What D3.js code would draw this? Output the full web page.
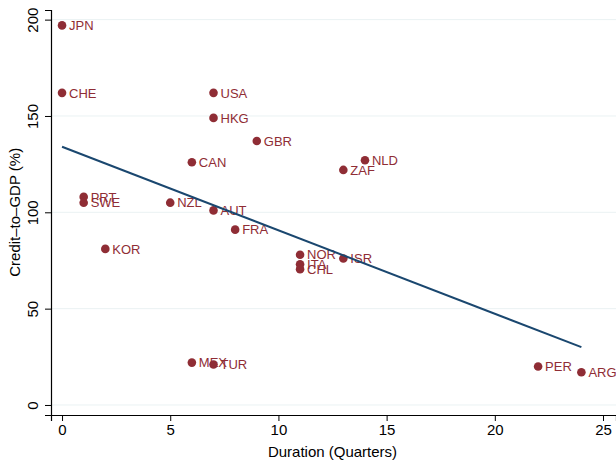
<!DOCTYPE html>
<html>
<head>
<meta charset="utf-8">
<script src="https://cdn.jsdelivr.net/npm/d3@7"></script>
<style>
  body { margin: 0; background: #fff; }
  svg { display: block; font-family: "Liberation Sans", Arial, sans-serif; }
</style>
</head>
<body>
<div id="chart"></div>
<script>
// country codes, duration (quarters) and credit-to-GDP (%)
const countries = ["JPN", "CHE", "USA", "HKG", "GBR", "CAN", "NLD", "ZAF", "PRT", "SWE", "NZL", "AUT",
  "KOR", "FRA", "NOR", "ITA", "CHL", "ISR", "MEX", "TUR", "PER", "ARG"];
const duration = [0, 0, 7, 7, 9, 6, 14, 13, 1, 1, 5, 7, 2, 8, 11, 11, 11, 13, 6, 7, 22, 24];
const creditGdp = [197, 162, 162, 149, 137, 126, 127, 122, 108, 105, 105, 101, 81, 91, 78, 73, 70.5, 76, 22, 21, 20, 17];

// fitted line endpoints
const fitX = [0, 24];
const fitY = [134, 30];

const xTicks = [0, 5, 10, 15, 20, 25];
const yTicks = [0, 50, 100, 150, 200];

const width = 616, height = 461;
const margin = { top: 10, right: 0, bottom: 46, left: 51 };

const svg = d3.select("#chart").append("svg")
  .attr("width", width)
  .attr("height", height);

const x = d3.scaleLinear().domain([-0.51, 25.6]).range([margin.left, width - margin.right]);
const y = d3.scaleLinear().domain([-5.2, 205]).range([height - margin.bottom, margin.top]);

// faint gridlines
svg.append("g")
  .selectAll("line")
  .data(yTicks)
  .enter()
  .append("line")
  .attr("x1", margin.left)
  .attr("x2", width)
  .attr("y1", (d) => y(d))
  .attr("y2", (d) => y(d))
  .attr("stroke", "#eaf2f3")
  .attr("stroke-width", 1);

// axes
const xAxis = svg.append("g")
  .attr("transform", `translate(0,${height - margin.bottom})`)
  .call(d3.axisBottom(x).tickValues(xTicks).tickSize(6).tickPadding(3).tickFormat(d3.format("d")));
xAxis.select(".domain").attr("stroke", "#000").attr("stroke-width", 1.2);
xAxis.selectAll("text").attr("font-size", 15).attr("fill", "#000").attr("font-family", "Liberation Sans, Arial, sans-serif");

const yAxis = svg.append("g")
  .attr("transform", `translate(${margin.left},0)`)
  .call(d3.axisLeft(y).tickValues(yTicks).tickSize(6).tickPadding(0).tickFormat(d3.format("d")));
yAxis.select(".domain").attr("stroke", "#000").attr("stroke-width", 1.2);
yAxis.selectAll("text")
  .attr("font-size", 15)
  .attr("fill", "#000")
  .attr("font-family", "Liberation Sans, Arial, sans-serif")
  .attr("text-anchor", "middle")
  .attr("dy", 0)
  .attr("x", 0)
  .attr("transform", "translate(-13,0) rotate(-90)");

// axis titles
svg.append("text")
  .attr("x", (x(0) + x(25)) / 2)
  .attr("y", 457)
  .attr("text-anchor", "middle")
  .attr("font-size", 15)
  .text("Duration (Quarters)");

svg.append("text")
  .attr("transform", `translate(20,${(y(0) + y(200)) / 2}) rotate(-90)`)
  .attr("text-anchor", "middle")
  .attr("font-size", 15)
  .text("Credit\u2013to\u2013GDP (%)");

// points
const points = countries.map((c, i) => ({ name: c, x: duration[i], y: creditGdp[i] }));

svg.append("g")
  .selectAll("circle")
  .data(points)
  .enter()
  .append("circle")
  .attr("cx", (d) => x(d.x))
  .attr("cy", (d) => y(d.y))
  .attr("r", 4.3)
  .attr("fill", "#8f2d35");

svg.append("g")
  .selectAll("text")
  .data(points)
  .enter()
  .append("text")
  .attr("x", (d) => x(d.x) + 7)
  .attr("y", (d) => y(d.y))
  .attr("dy", "0.36em")
  .attr("font-size", 13)
  .attr("fill", "#8f2d35")
  .text((d) => d.name);

// fitted line
svg.append("line")
  .attr("x1", x(fitX[0]))
  .attr("y1", y(fitY[0]))
  .attr("x2", x(fitX[1]))
  .attr("y2", y(fitY[1]))
  .attr("stroke", "#1a476f")
  .attr("stroke-width", 2);
</script>
</body>
</html>
